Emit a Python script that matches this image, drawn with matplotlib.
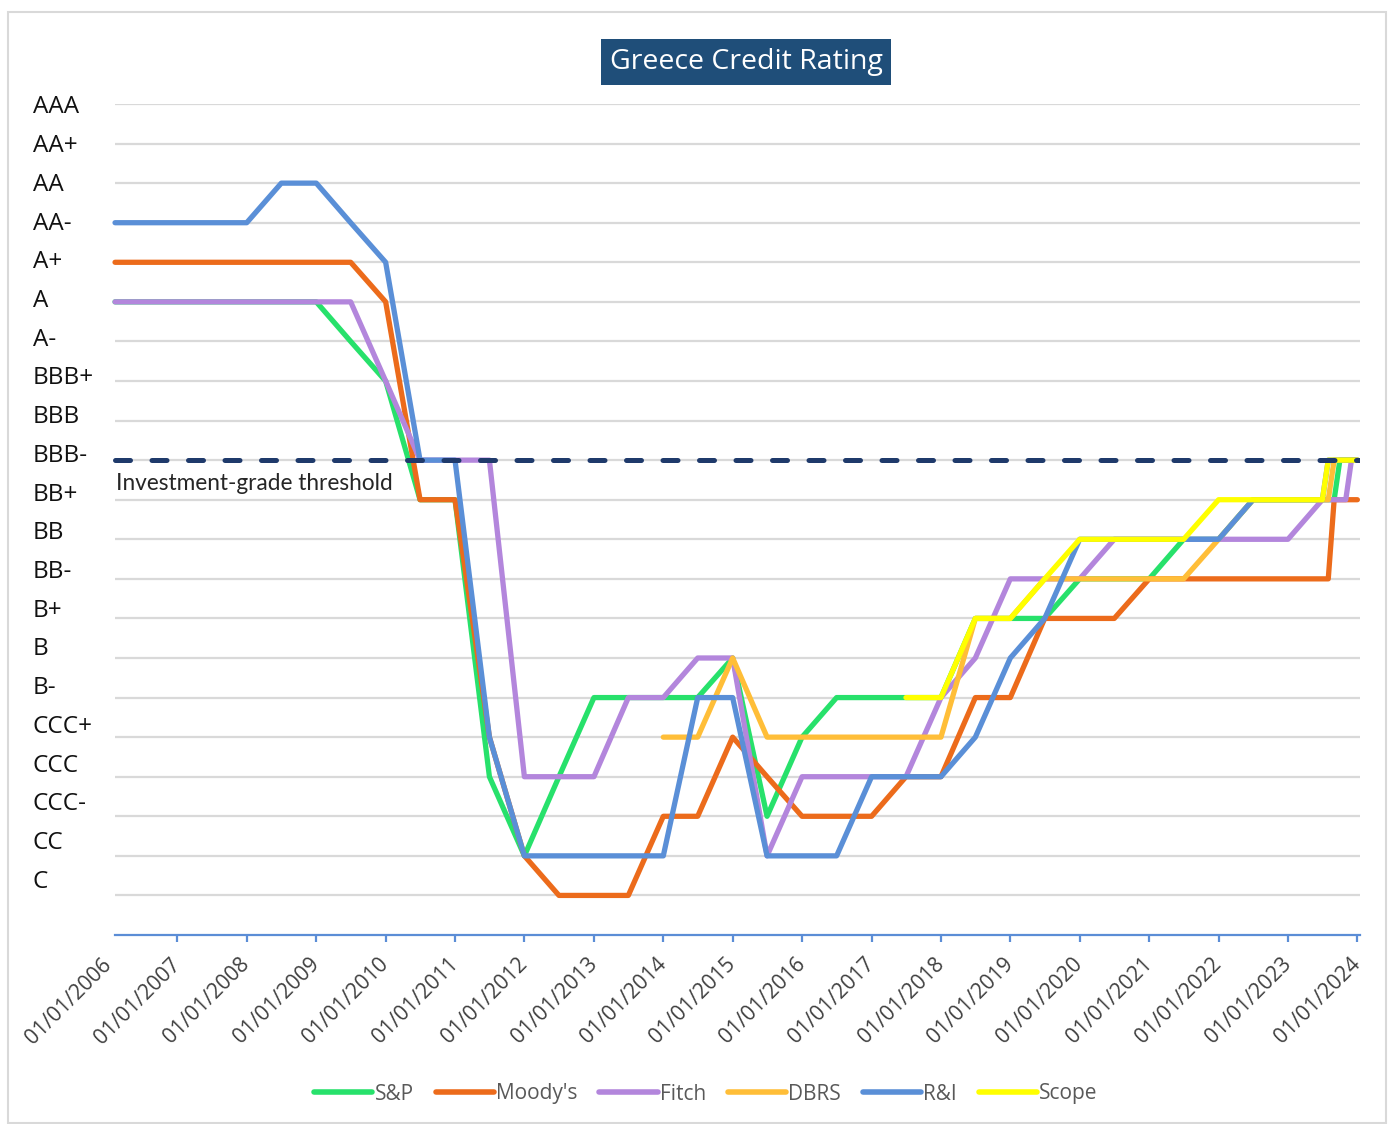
import matplotlib
matplotlib.use("Agg")
import matplotlib.pyplot as plt
import matplotlib.dates as mdates
from matplotlib.lines import Line2D
from matplotlib.patches import Rectangle
import numpy as np
import pandas as pd

plt.rcParams['font.family'] = ['Open Sans', 'DejaVu Sans']

# ---------------- data ----------------
ratings = ["C", "CC", "CCC-", "CCC", "CCC+", "B-", "B", "B+", "BB-", "BB", "BB+",
           "BBB-", "BBB", "BBB+", "A-", "A", "A+", "AA-", "AA", "AA+", "AAA"]

dates = ["2006-02-07", "2006-07-01", "2007-01-01", "2007-07-01", "2008-01-01", "2008-07-01",
         "2009-01-01", "2009-07-01", "2010-01-01", "2010-07-01", "2011-01-01", "2011-07-01",
         "2012-01-01", "2012-07-01", "2013-01-01", "2013-07-01", "2014-01-01", "2014-07-01",
         "2015-01-01", "2015-07-01", "2016-01-01", "2016-07-01", "2017-01-01", "2017-07-01",
         "2018-01-01", "2018-07-01", "2019-01-01", "2019-07-01", "2020-01-01", "2020-07-01",
         "2021-01-01", "2021-07-01", "2022-01-01", "2022-07-01", "2023-01-01", "2023-07-01",
         "2023-08-01", "2023-09-01", "2023-10-01", "2023-11-01", "2023-12-01", "2024-01-01"]

sp = ["A", "A", "A", "A", "A", "A", "A", "A-", "BBB+", "BB+", "BB+", "CCC",
      "CC", "CCC", "B-", "B-", "B-", "B-", "B", "CCC-", "CCC+", "B-", "B-", "B-",
      "B-", "B+", "B+", "B+", "BB-", "BB-", "BB-", "BB", "BB", "BB+", "BB+", "BB+",
      "BB+", "BB+", "BBB-", "BBB-", "BBB-", "BBB-"]

moodys = ["A+", "A+", "A+", "A+", "A+", "A+", "A+", "A+", "A", "BB+", "BB+", "CCC+",
          "CC", "C", "C", "C", "CCC-", "CCC-", "CCC+", "CCC", "CCC-", "CCC-", "CCC-", "CCC",
          "CCC", "B-", "B-", "B+", "B+", "B+", "BB-", "BB-", "BB-", "BB-", "BB-", "BB-",
          "BB-", "BB+", "BB+", "BB+", "BB+", "BB+"]

fitch = ["A", "A", "A", "A", "A", "A", "A", "A", "BBB+", "BBB-", "BBB-", "BBB-",
         "CCC", "CCC", "CCC", "B-", "B-", "B", "B", "CC", "CCC", "CCC", "CCC", "CCC",
         "B-", "B", "BB-", "BB-", "BB-", "BB", "BB", "BB", "BB", "BB", "BB", "BB+",
         "BB+", "BB+", "BB+", "BB+", "BBB-", "BBB-"]

dbrs = [None] * 16 + ["CCC+", "CCC+", "B", "CCC+", "CCC+", "CCC+", "CCC+", "CCC+",
                      "CCC+", "B+", "B+", "BB-", "BB-", "BB-", "BB-", "BB-", "BB", "BB+",
                      "BB+", "BB+", "BB+", "BBB-", "BBB-", "BBB-", "BBB-", "BBB-"]

r_and_i = ["AA-", "AA-", "AA-", "AA-", "AA-", "AA", "AA", "AA-", "A+", "BBB-", "BBB-", "CCC+",
           "CC", "CC", "CC", "CC", "CC", "B-", "B-", "CC", "CC", "CC", "CCC", "CCC",
           "CCC", "CCC+", "B", "B+", "BB", "BB", "BB", "BB", "BB", "BB+", "BB+", "BB+",
           "BBB-", "BBB-", "BBB-", "BBB-", "BBB-", "BBB-"]

scope = [None] * 23 + ["B-", "B-", "B+", "B+", "BB-", "BB", "BB", "BB", "BB", "BB+", "BB+",
                       "BB+", "BB+", "BBB-", "BBB-", "BBB-", "BBB-", "BBB-", "BBB-"]

series_names = ["S&P", "Moody's", "Fitch", "DBRS", "R&I", "Scope"]
series_values = [sp, moodys, fitch, dbrs, r_and_i, scope]
series_colors = ["#27E16B", "#EC6B1B", "#B386DC", "#FFBE38", "#5A8FD7", "#FFFF00"]

threshold_rating = "BBB-"
threshold_label = "Investment-grade threshold"
year_ticks = list(range(2007, 2025))
title = "Greece Credit Rating"

# ---------------- plotting ----------------
W, H = 1388, 1124
fig = plt.figure(figsize=(W / 100, H / 100), dpi=100)

rank = {r: i + 1 for i, r in enumerate(ratings)}
x = pd.to_datetime(dates)

x_left = pd.Timestamp("2006-01-01")
x_right = pd.Timestamp("2024-01-15")

ax_l, ax_r, ax_t, ax_b = 108, 1360, 104, 935
ax = fig.add_axes([ax_l / W, 1 - ax_b / H, (ax_r - ax_l) / W, (ax_b - ax_t) / H])
ax.set_xlim(x_left, x_right)
ax.set_ylim(0, len(ratings))

# gridlines
ax.hlines(range(1, len(ratings) + 1), x[0], x_right, colors="#D9D9D9", lw=1.6, zorder=1)

# series
for name, vals, col in zip(series_names, series_values, series_colors):
    y = np.array([rank[v] if v is not None else np.nan for v in vals], dtype=float)
    ax.plot(x, y, color=col, lw=3.8, solid_capstyle="round", solid_joinstyle="round",
            zorder=3, label=name)

# threshold
ax.hlines(rank[threshold_rating], x[0], x_right, colors="#1F3A6B", lw=3.6,
          linestyles=(0, (3.0, 4.3)), zorder=5, capstyle="round")
ax.text(x[0] + pd.Timedelta(days=5), rank[threshold_rating] - 0.6, threshold_label,
        family=["Lato", "DejaVu Sans"], fontsize=16.3, color="#262626",
        ha="left", va="center", zorder=6)

# spines
for s in ["top", "right", "left"]:
    ax.spines[s].set_visible(False)
ax.spines["bottom"].set_color("#5B8DD6")
ax.spines["bottom"].set_linewidth(1.6)
ax.spines["bottom"].set_bounds(mdates.date2num(x[0]), mdates.date2num(x_right))

# x ticks
major = [pd.Timestamp(f"{yr}-01-01") for yr in year_ticks]
ax.set_xticks(major)
ax.set_xticklabels([d.strftime("%d/%m/%Y") for d in major])
ax.set_xticks([x_left], minor=True)
ax.set_xticklabels([x_left.strftime("%d/%m/%Y")], minor=True)
ax.tick_params(axis="x", which="major", direction="out", length=5, width=1.6,
               color="#5B8DD6", pad=14)
ax.tick_params(axis="x", which="minor", length=0, pad=19)
for lbl in ax.get_xticklabels(which="both"):
    lbl.set_rotation(45)
    lbl.set_ha("right")
    lbl.set_va("center")
    lbl.set_rotation_mode("anchor")
    lbl.set_fontsize(15.2)
    lbl.set_color("#404040")

# y labels (text column on the left)
label_pos = np.linspace(len(ratings) - 0.01, 1.42, len(ratings))
ax.set_yticks(label_pos)
ax.set_yticklabels(ratings[::-1])
ax.tick_params(axis="y", length=0, pad=(ax_l - 33) * 0.72)
for lbl in ax.get_yticklabels():
    lbl.set_ha("left")
    lbl.set_fontsize(17.5)
    lbl.set_color("#111111")

# title
fig.text(746 / W, 1 - 62 / H, title, ha="center", va="center", fontsize=20.5,
         color="white", bbox=dict(boxstyle="square,pad=0.3", fc="#1F4E79", ec="none"))

# legend
handles = [Line2D([0], [0], color=c, lw=4, solid_capstyle="round") for c in series_colors]
fig.legend(handles, series_names, loc="center", bbox_to_anchor=(706 / W, 1 - 1094 / H),
           ncol=6, frameon=False, handlelength=2.8, handletextpad=0.1,
           columnspacing=1.05, fontsize=15, labelcolor="#595959")

# outer frame
fig.patches.append(Rectangle((8 / W, 1 - 1123 / H), (1386 - 8) / W, (1123 - 12) / H,
                             transform=fig.transFigure, fill=False, ec="#D9D9D9", lw=1.5))

fig.savefig("out.png", dpi=100)
